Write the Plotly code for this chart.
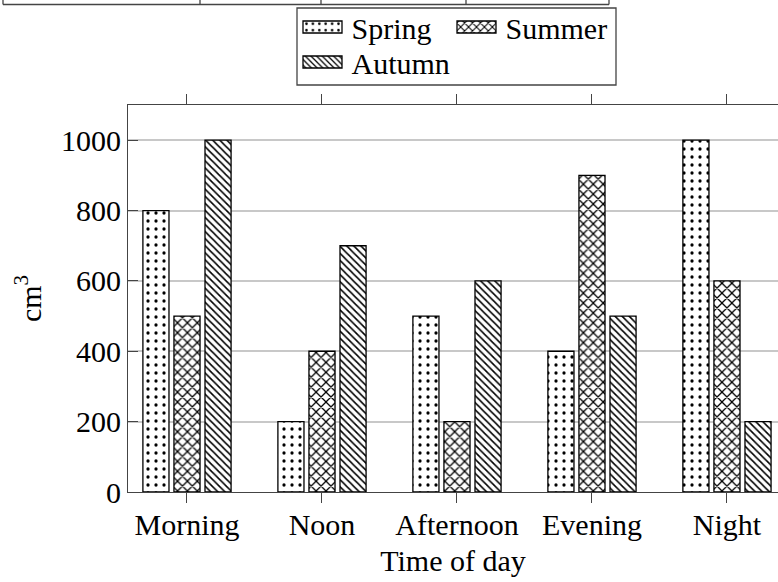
import plotly.graph_objects as go

# ---- data ----
categories = ["Morning", "Noon", "Afternoon", "Evening", "Night"]
spring = [800, 200, 500, 400, 1000]
summer = [500, 400, 200, 900, 600]
autumn = [1000, 700, 600, 500, 200]
series_names = ["Spring", "Summer", "Autumn"]
y_tick_vals = [0, 200, 400, 600, 800, 1000]

# ---- geometry (pixels) ----
W, H = 778, 582
ML, MR, MT, MB = 128, 0, 105, 90
PW, PH = W - ML - MR, H - MT - MB


def px_x(px):
    return (px - ML) / PW


def px_y(py):
    return (H - MB - py) / PH


FONT = "Liberation Serif, serif"
FS = 30
AX = "#444444"
TXT = dict(family=FONT, size=FS, color="black")

patterns = [
    dict(shape=".", size=8, solidity=0.13, fgcolor="black", fgopacity=1),
    dict(shape="x", size=7, solidity=0.33, fgcolor="black", fgopacity=1),
    dict(shape="\\", size=5, solidity=0.32, fgcolor="black", fgopacity=1),
]
values = [spring, summer, autumn]
legend_ids = ["legend", "legend", "legend2"]
legend_widths = [91, None, None]

fig = go.Figure()
for name, vals, pat, lg, lw in zip(series_names, values, patterns, legend_ids, legend_widths):
    fig.add_trace(go.Bar(
        x=categories, y=vals, name=name, legend=lg, legendwidth=lw,
        marker=dict(color="white", pattern=pat,
                    line=dict(color="black", width=1.3)),
    ))

shapes = []
# table fragment at the very top of the picture
top_y = 4.5
shapes.append(dict(type="line", xref="paper", yref="paper",
                   x0=px_x(3), x1=px_x(609), y0=px_y(top_y), y1=px_y(top_y),
                   line=dict(color=AX, width=1.3)))
for vx in [3, 200, 321, 466, 609]:
    shapes.append(dict(type="line", xref="paper", yref="paper",
                       x0=px_x(vx), x1=px_x(vx), y0=px_y(-2), y1=px_y(top_y),
                       line=dict(color=AX, width=1.3)))
# legend frame
shapes.append(dict(type="rect", xref="paper", yref="paper",
                   x0=px_x(297), x1=px_x(616), y0=px_y(85), y1=px_y(8),
                   line=dict(color=AX, width=1.3), fillcolor="rgba(0,0,0,0)"))

leg_common = dict(orientation="h", xanchor="left", yanchor="top",
                  bgcolor="rgba(0,0,0,0)", borderwidth=0,
                  itemwidth=48, tracegroupgap=0)

fig.update_layout(
    width=W, height=H,
    margin=dict(l=ML, r=MR, t=MT, b=MB, autoexpand=False),
    paper_bgcolor="white", plot_bgcolor="white",
    font=TXT,
    barmode="group", bargap=0.31, bargroupgap=0.16,
    shapes=shapes,
    legend=dict(x=px_x(293.5), y=px_y(1), **leg_common),
    legend2=dict(x=px_x(293.5), y=px_y(36), **leg_common),
    xaxis=dict(
        range=[-0.437, 4.378],
        showline=True, linecolor=AX, linewidth=1.2, mirror="ticks",
        ticks="outside", ticklen=10, tickcolor=AX, tickwidth=1,
        showgrid=False, zeroline=False, ticklabelstandoff=-4,
        tickfont=TXT,
        title=dict(text="Time of day", font=TXT, standoff=9),
    ),
    yaxis=dict(
        range=[0, 1100], tickvals=y_tick_vals,
        showline=True, linecolor=AX, linewidth=1.2, mirror=False,
        ticks="inside", ticklen=10, tickcolor=AX, tickwidth=1,
        showgrid=True, gridcolor="#c8c8c8", gridwidth=1.5, zeroline=False,
        tickfont=TXT,
        title=dict(text="cm<sup>3</sup>", font=TXT, standoff=10),
    ),
)
fig.update_layout(legend_font=TXT, legend2_font=TXT)

post = (
    "document.body.style.margin = '0';"
    "var fixSw = () => document.querySelectorAll('g.legendpoints path').forEach(p => p.setAttribute('d', 'M19.5,6H-19.5V-6H19.5Z'));"
    "fixSw(); setTimeout(fixSw, 50); setTimeout(fixSw, 400);"
    "document.getElementById('{plot_id}').on('plotly_afterplot', () => setTimeout(fixSw, 0));"
)
fig.write_html("out.html", post_script=post, config={"displayModeBar": False})
